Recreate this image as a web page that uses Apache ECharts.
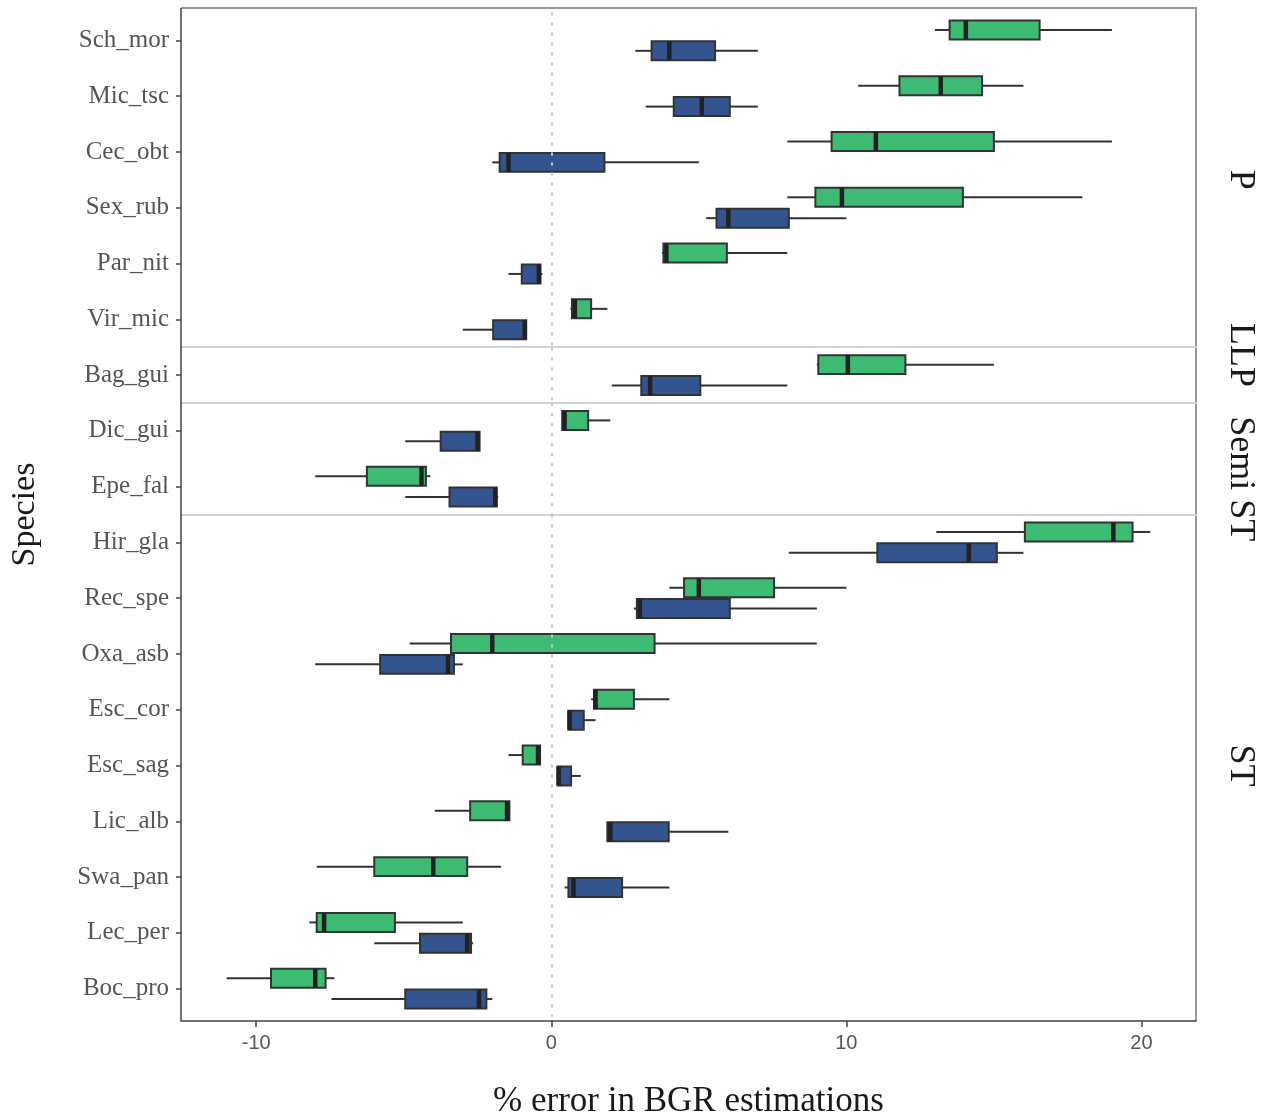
<!DOCTYPE html>
<html>
<head>
<meta charset="utf-8">
<script src="https://cdn.jsdelivr.net/npm/echarts@6/dist/echarts.min.js"></script>
<style>
  html, body { margin: 0; padding: 0; background: #ffffff; }
  #chart { width: 1266px; height: 1118px; }
</style>
</head>
<body>
<div id="chart"></div>
<script>
// Facet groups (top to bottom) and the species shown in each
const facets = ['P', 'LLP', 'Semi ST', 'ST'];
const speciesP = ['Sch_mor', 'Mic_tsc', 'Cec_obt', 'Sex_rub', 'Par_nit', 'Vir_mic'];
const speciesLLP = ['Bag_gui'];
const speciesSemiST = ['Dic_gui', 'Epe_fal'];
const speciesST = ['Hir_gla', 'Rec_spe', 'Oxa_asb', 'Esc_cor', 'Esc_sag', 'Lic_alb', 'Swa_pan', 'Lec_per', 'Boc_pro'];
const facetSpecies = [speciesP, speciesLLP, speciesSemiST, speciesST];

// Box summaries per species: [whisker low, Q1, median, Q3, whisker high]
const greenStats = {
  Sch_mor: [13.0, 13.5, 14.05, 16.55, 19.0],
  Mic_tsc: [10.4, 11.8, 13.2, 14.6, 16.0],
  Cec_obt: [8.0, 9.5, 11.0, 15.0, 19.0],
  Sex_rub: [8.0, 8.95, 9.85, 13.95, 18.0],
  Par_nit: [3.75, 3.8, 3.9, 5.95, 8.0],
  Vir_mic: [0.65, 0.7, 0.8, 1.35, 1.9],
  Bag_gui: [9.0, 9.05, 10.05, 12.0, 15.0],
  Dic_gui: [0.35, 0.37, 0.45, 1.25, 2.0],
  Epe_fal: [-8.0, -6.25, -4.4, -4.25, -4.1],
  Hir_gla: [13.05, 16.05, 19.05, 19.7, 20.3],
  Rec_spe: [4.0, 4.5, 5.0, 7.55, 10.0],
  Oxa_asb: [-4.8, -3.4, -2.0, 3.5, 9.0],
  Esc_cor: [1.35, 1.45, 1.5, 2.8, 4.0],
  Esc_sag: [-1.45, -0.97, -0.45, -0.38, -0.38],
  Lic_alb: [-3.95, -2.75, -1.5, -1.42, -1.4],
  Swa_pan: [-7.95, -6.0, -4.0, -2.85, -1.7],
  Lec_per: [-8.2, -7.95, -7.7, -5.3, -3.0],
  Boc_pro: [-11.0, -9.5, -8.0, -7.65, -7.35]
};
const blueStats = {
  Sch_mor: [2.85, 3.4, 4.0, 5.55, 7.0],
  Mic_tsc: [3.2, 4.15, 5.1, 6.05, 7.0],
  Cec_obt: [-2.0, -1.75, -1.45, 1.8, 5.0],
  Sex_rub: [5.25, 5.6, 6.0, 8.05, 10.0],
  Par_nit: [-1.45, -1.0, -0.42, -0.37, -0.3],
  Vir_mic: [-3.0, -1.97, -0.9, -0.85, -0.85],
  Bag_gui: [2.05, 3.05, 3.35, 5.05, 8.0],
  Dic_gui: [-4.95, -3.75, -2.5, -2.43, -2.43],
  Epe_fal: [-4.95, -3.45, -1.9, -1.85, -1.8],
  Hir_gla: [8.05, 11.05, 14.15, 15.1, 16.0],
  Rec_spe: [2.8, 2.9, 3.0, 6.05, 9.0],
  Oxa_asb: [-8.0, -5.8, -3.5, -3.3, -3.0],
  Esc_cor: [0.55, 0.58, 0.62, 1.1, 1.5],
  Esc_sag: [0.2, 0.21, 0.25, 0.67, 1.0],
  Lic_alb: [1.88, 1.9, 2.0, 3.98, 6.0],
  Swa_pan: [0.45, 0.58, 0.75, 2.4, 4.0],
  Lec_per: [-6.0, -4.45, -2.85, -2.72, -2.65],
  Boc_pro: [-7.45, -4.95, -2.45, -2.2, -2.0]
};

const xTicks = [-10, 0, 10, 20];
const xMin = -12.55, xMax = 21.85;

const GREEN = '#3dbb73';
const BLUE = '#34548f';
const OUTLINE = '#333333';
const AXIS_DARK = '#444444';

// Plot frame in pixels; panels sit slightly inside the outer frame at top and bottom
const plotLeft = 181, plotRight = 1196, plotTop = 8, plotBottom = 1021;
const frameInset = 4.5;
const totalRows = facetSpecies.reduce((s, a) => s + a.length, 0);
const rowH = (plotBottom - plotTop - 2 * frameInset) / totalRows;
// Vertical nudges for the strip labels so the two short panels' labels stay apart
const stripNudge = [0, -20, 20, 0];

// Horizontal box with plain whiskers; side = -1 puts it in the upper half of the band, +1 lower half
function boxRenderer(side, fill) {
  return function (params, api) {
    const cat = api.value(0);
    const band = api.size([0, 1])[1];
    const base = api.coord([api.value(3), cat]);
    const yc = base[1] + side * band * 0.187;
    const h = band * 0.34;
    const xs = [1, 2, 3, 4, 5].map(i => api.coord([api.value(i), cat])[0]);
    const xLo = xs[0], xQ1 = xs[1], xMed = xs[2], xQ3 = xs[3], xHi = xs[4];
    const wStyle = { stroke: OUTLINE, lineWidth: 2 };
    return {
      type: 'group',
      children: [
        { type: 'line', shape: { x1: xLo, y1: yc, x2: xQ1, y2: yc }, style: wStyle },
        { type: 'line', shape: { x1: xQ3, y1: yc, x2: xHi, y2: yc }, style: wStyle },
        { type: 'rect', shape: { x: xQ1, y: yc - h / 2, width: Math.max(xQ3 - xQ1, 0.5), height: h },
          style: { fill: fill, stroke: OUTLINE, lineWidth: 2 } },
        { type: 'line', shape: { x1: xMed, y1: yc - h / 2, x2: xMed, y2: yc + h / 2 },
          style: { stroke: '#222222', lineWidth: 4.5 } }
      ]
    };
  };
}

const grids = [], xAxes = [], yAxes = [], series = [], graphics = [];
const serif = 'Liberation Serif, Times New Roman, serif';
let panelTop = plotTop + frameInset;

facets.forEach((facet, i) => {
  const names = facetSpecies[i];
  const panelHeight = names.length * rowH;
  const isLast = i === facets.length - 1;
  grids.push({
    left: plotLeft, width: plotRight - plotLeft, top: panelTop, height: panelHeight,
    containLabel: false, outerBoundsMode: 'none', show: false
  });

  xAxes.push({
    type: 'value', gridIndex: i, min: xMin, max: xMax,
    offset: isLast ? frameInset : 0,
    splitLine: { show: false },
    axisLine: { show: true, onZero: false, lineStyle: isLast ? { color: AXIS_DARK, width: 1.5 } : { color: '#d4d4d4', width: 2 } },
    axisTick: isLast ? { show: true, customValues: xTicks, length: 6, lineStyle: { color: AXIS_DARK, width: 1.5 } } : { show: false },
    axisLabel: isLast ? { show: true, customValues: xTicks, fontFamily: 'Liberation Sans, Arial, sans-serif', fontSize: 20, color: '#555555', margin: 12 } : { show: false },
    name: isLast ? '% error in BGR estimations' : '',
    nameLocation: 'middle',
    nameGap: 63,
    nameTextStyle: { fontFamily: serif, fontSize: 35, color: '#1a1a1a' }
  });

  yAxes.push({
    type: 'category', gridIndex: i, data: names, inverse: true,
    axisLine: { show: false, onZero: false },
    axisTick: { show: true, alignWithLabel: true, length: 5, lineStyle: { color: AXIS_DARK, width: 1.5 } },
    axisLabel: { fontFamily: serif, fontSize: 25, color: '#555555', margin: 12 },
    splitLine: { show: false }
  });

  series.push({
    type: 'custom', name: 'green', xAxisIndex: i, yAxisIndex: i,
    renderItem: boxRenderer(-1, GREEN),
    encode: { x: [1, 2, 3, 4, 5], y: 0 },
    data: names.map(n => [n].concat(greenStats[n])),
    z: 3
  });
  series.push({
    type: 'custom', name: 'blue', xAxisIndex: i, yAxisIndex: i,
    renderItem: boxRenderer(1, BLUE),
    encode: { x: [1, 2, 3, 4, 5], y: 0 },
    data: names.map(n => [n].concat(blueStats[n])),
    z: 3,
    // dotted reference line at zero error, drawn over the boxes
    markLine: {
      silent: true, symbol: ['none', 'none'], label: { show: false },
      lineStyle: { color: '#c8c8c8', type: [3, 7], width: 2 },
      data: [{ xAxis: 0, lineStyle: { color: '#c8c8c8', type: [3, 7], width: 2 } }],
      z: 5
    }
  });

  // Facet strip label, reading top to bottom on the right
  graphics.push({
    type: 'text', x: 1240, y: panelTop + panelHeight / 2 + stripNudge[i], rotation: -Math.PI / 2,
    style: { text: facet, font: '36px ' + serif, fill: '#1a1a1a', textAlign: 'center', textVerticalAlign: 'middle' }
  });

  panelTop += panelHeight;
});

// Top and right edges of the panel frame (light), left edge as the dark axis line
graphics.push({
  type: 'polyline', z: -1,
  shape: { points: [[plotLeft, plotTop], [plotRight, plotTop], [plotRight, plotBottom]] },
  style: { stroke: '#999999', lineWidth: 2, fill: null }
});
graphics.push({
  type: 'line', z: 10,
  shape: { x1: plotLeft, y1: plotTop, x2: plotLeft, y2: plotBottom },
  style: { stroke: AXIS_DARK, lineWidth: 1.5 }
});
// Y axis title
graphics.push({
  type: 'text', x: 25, y: (plotTop + plotBottom) / 2, rotation: Math.PI / 2,
  style: { text: 'Species', font: '34px ' + serif, fill: '#1a1a1a', textAlign: 'center', textVerticalAlign: 'middle' }
});

const chart = echarts.init(document.getElementById('chart'), null, { renderer: 'canvas' });
chart.setOption({
  backgroundColor: '#ffffff',
  animation: false,
  grid: grids,
  xAxis: xAxes,
  yAxis: yAxes,
  series: series,
  graphic: graphics
});
</script>
</body>
</html>
